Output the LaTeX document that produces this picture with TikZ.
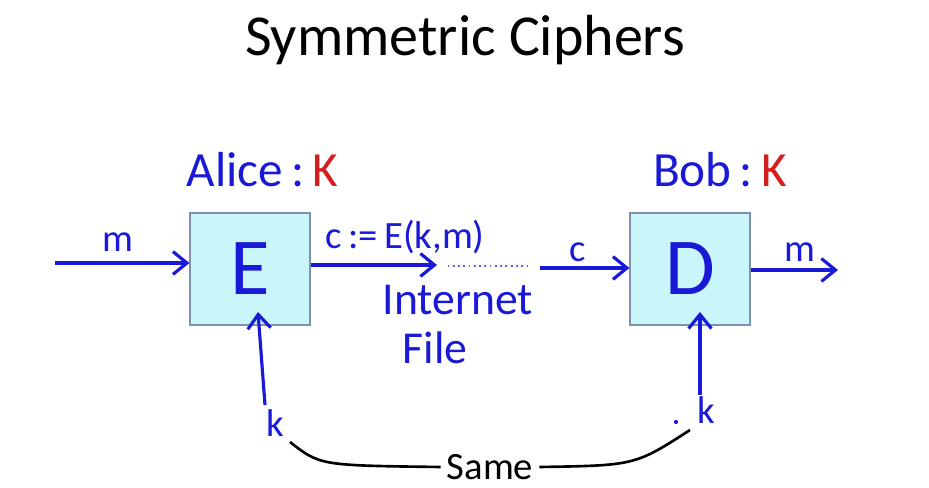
\documentclass[tikz,border=0pt]{standalone}
\usepackage{fontspec}
\setmainfont{Carlito}
\usetikzlibrary{arrows.meta,positioning}
\definecolor{inkblue}{RGB}{25,25,215}
\definecolor{inkred}{RGB}{215,30,30}
\definecolor{boxcyan}{RGB}{200,246,250}
\definecolor{boxedge}{RGB}{125,145,175}

\begin{document}
\begin{tikzpicture}[>={Straight Barb[length=8pt,width=13pt,line width=1.8pt]},
  ink/.style={inkblue,line width=1.8pt},
  hand/.style={inkblue,font=\fontsize{22}{24}\selectfont},
  cipherbox/.style={draw=boxedge,fill=boxcyan,line width=0.6pt,
    minimum width=2.4cm,minimum height=2.24cm,inner sep=0pt,
    font=\fontsize{46}{50}\selectfont,text=inkblue}]

%% ── frame ────────────────────────────────────────────────────────────────────
\useasboundingbox[fill=white] (0,0) rectangle (18.58,9.76);

%% ── title ────────────────────────────────────────────────────────────────────
\node (title) at (9.3,8.95) {\fontsize{33}{38}\selectfont Symmetric Ciphers};

%% ── the two boxes ────────────────────────────────────────────────────────────
\node[cipherbox] (E) at (5.0,4.38) {E};
\node[cipherbox] (D) at (13.8,4.38) {D};

\node[hand,font=\fontsize{28}{30}\selectfont] (alice) at (5.25,6.36)
  {Alice\,:\,\textcolor{inkred}{K}};
\node[hand,font=\fontsize{28}{30}\selectfont] (bob) at (14.4,6.36)
  {Bob\,:\,\textcolor{inkred}{K}};

%% ── message flow ─────────────────────────────────────────────────────────────
\coordinate (min) at (1.1,4.5);
\draw[ink,->] (min) -- (E.west |- min);
\node[hand] (mlabel) at (2.36,4.92) {m};

\coordinate (cend) at (8.74,4.46);
\draw[ink,->] (E.east |- cend) -- (cend);
\node[hand] (clabel) at (8.1,5.02) {c\,:=\,E(k,m)};

\coordinate (dotsa) at (8.95,4.44);
\coordinate (dotsb) at (10.6,4.44);
\draw[inkblue!70,line width=1pt,dotted] (dotsa) -- (dotsb);

\node[hand,font=\fontsize{26}{28}\selectfont] (internet) at (9.16,3.76) {Internet};
\node[hand,font=\fontsize{26}{28}\selectfont] (file) at (8.7,2.8) {File};

\coordinate (cin) at (10.8,4.4);
\draw[ink,->] (cin) -- (D.west |- cin);
\node[hand] (cinlabel) at (11.56,4.72) {c};

\coordinate (mout) at (16.76,4.36);
\draw[ink,->] (D.east |- mout) -- (mout);
\node[hand] (moutlabel) at (16.0,4.72) {m};

%% ── keys ─────────────────────────────────────────────────────────────────────
\coordinate (kE) at (5.3,1.66);
\coordinate (kEtip) at (5.16,3.52);
\draw[ink,->] (kE) -- (kEtip);
\node[hand] (klabelE) at (5.5,1.3) {k};

\coordinate (kD) at (14.0,1.86);
\coordinate (kDtip) at (14.0,3.52);
\draw[ink,->] (kD) -- (kDtip);
\node[hand] (klabelD) at (14.12,1.56) {k};
\fill[inkblue] (13.52,1.32) circle (1.2pt);

%% ── same key ─────────────────────────────────────────────────────────────────
\node[font=\fontsize{22}{24}\selectfont] (same) at (9.8,0.42) {Same};
\coordinate (sameL) at (5.8,0.92);
\coordinate (sameR) at (13.8,1.16);
\draw[line width=1.5pt] (sameL) .. controls (6.4,0.45) .. (same.west);
\draw[line width=1.5pt] (same.east) .. controls (12.7,0.45) .. (sameR);

\end{tikzpicture}
\end{document}
